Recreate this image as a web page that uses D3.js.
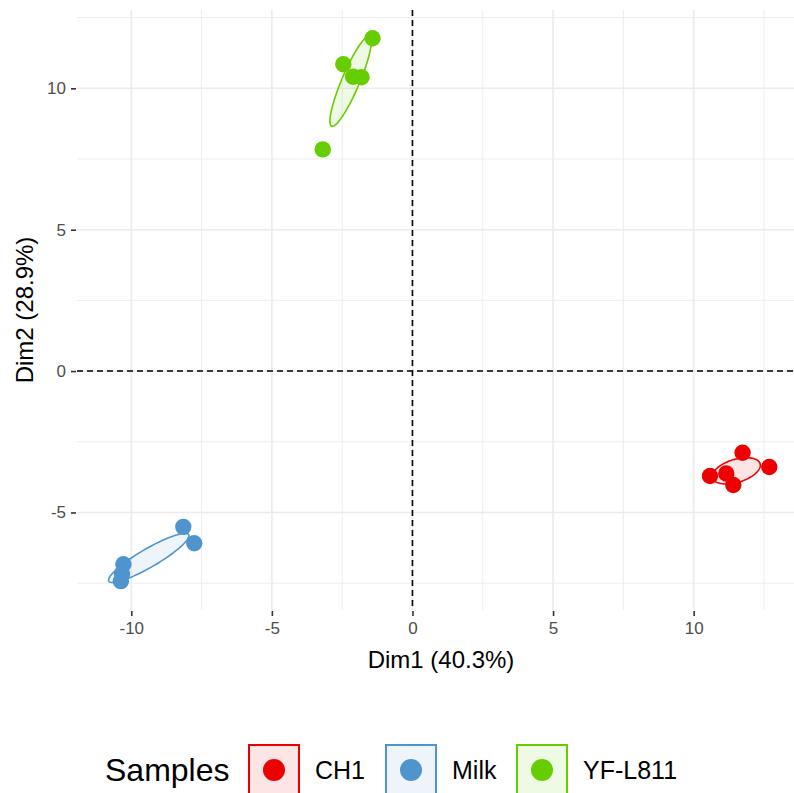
<!DOCTYPE html>
<html>
<head>
<meta charset="utf-8">
<script src="https://cdn.jsdelivr.net/npm/d3@7"></script>
<style>
  body { margin: 0; background: #fff; }
  svg { display: block; font-family: "Liberation Sans", Arial, sans-serif; }
</style>
</head>
<body>
<div id="chart"></div>
<script>
// PCA individuals
var groups = ["CH1", "Milk", "YF-L811"];
var groupColors = ["#EE0000", "#4F94CD", "#66CD00"];

var ch1Dim1 = [10.58, 11.16, 11.41, 11.74, 12.69];
var ch1Dim2 = [-3.71, -3.62, -4.03, -2.89, -3.39];
var milkDim1 = [-8.15, -7.76, -10.28, -10.33, -10.37];
var milkDim2 = [-5.51, -6.09, -6.83, -7.18, -7.43];
var yfDim1 = [-1.42, -2.46, -2.11, -1.81, -3.19];
var yfDim2 = [11.77, 10.85, 10.41, 10.39, 7.84];

var xTicks = [-10, -5, 0, 5, 10];
var yTicks = [-5, 0, 5, 10];
var xMinor = [-12.5, -7.5, -2.5, 2.5, 7.5, 12.5];
var yMinor = [-7.5, -2.5, 2.5, 7.5, 12.5];

var dim1Label = "Dim1 (40.3%)";
var dim2Label = "Dim2 (28.9%)";
var legendTitle = "Samples";

var seriesX = [ch1Dim1, milkDim1, yfDim1];
var seriesY = [ch1Dim2, milkDim2, yfDim2];

var width = 794, height = 793;
var panel = {left: 77, top: 10, right: 805, bottom: 610};

var svg = d3.select("#chart")
            .append("svg")
            .attr("width", width)
            .attr("height", height);

var xScale = d3.scaleLinear()
               .domain([-11.93, 13.96])
               .range([panel.left, panel.right]);

var yScale = d3.scaleLinear()
               .domain([-8.45, 12.77])
               .range([panel.bottom, panel.top]);

svg.append("defs").append("clipPath")
   .attr("id", "panelClip")
   .append("rect")
   .attr("x", panel.left)
   .attr("y", panel.top)
   .attr("width", panel.right - panel.left)
   .attr("height", panel.bottom - panel.top);

var grid = svg.append("g").attr("clip-path", "url(#panelClip)");

// minor grid
grid.selectAll(".vminor").data(xMinor).enter().append("line")
    .attr("x1", function(d) { return xScale(d); })
    .attr("x2", function(d) { return xScale(d); })
    .attr("y1", panel.top).attr("y2", panel.bottom)
    .style("stroke", "#EBEBEB").style("stroke-width", 0.9);
grid.selectAll(".hminor").data(yMinor).enter().append("line")
    .attr("y1", function(d) { return yScale(d); })
    .attr("y2", function(d) { return yScale(d); })
    .attr("x1", panel.left).attr("x2", panel.right)
    .style("stroke", "#EBEBEB").style("stroke-width", 0.9);

// major grid
grid.selectAll(".vmajor").data(xTicks).enter().append("line")
    .attr("x1", function(d) { return xScale(d); })
    .attr("x2", function(d) { return xScale(d); })
    .attr("y1", panel.top).attr("y2", panel.bottom)
    .style("stroke", "#EBEBEB").style("stroke-width", 1.6);
grid.selectAll(".hmajor").data(yTicks).enter().append("line")
    .attr("y1", function(d) { return yScale(d); })
    .attr("y2", function(d) { return yScale(d); })
    .attr("x1", panel.left).attr("x2", panel.right)
    .style("stroke", "#EBEBEB").style("stroke-width", 1.6);

// axes (plain hyphen for negatives, like the original)
var xAxis = svg.append("g")
               .attr("transform", "translate(0," + (panel.bottom + 1) + ")")
               .call(d3.axisBottom(xScale).tickValues(xTicks).tickFormat(String).tickSize(5).tickPadding(6));
var yAxis = svg.append("g")
               .attr("transform", "translate(" + (panel.left - 1) + ",0)")
               .call(d3.axisLeft(yScale).tickValues(yTicks).tickFormat(String).tickSize(5).tickPadding(5));
[xAxis, yAxis].forEach(function(ax) {
  ax.select(".domain").remove();
  ax.selectAll(".tick line").style("stroke", "#333333").style("stroke-width", 1.6);
  ax.selectAll(".tick text")
    .style("fill", "#4D4D4D")
    .style("font-size", "17px")
    .style("font-family", "Liberation Sans, Arial, sans-serif");
});

svg.append("text")
   .attr("x", (panel.left + panel.right) / 2)
   .attr("y", 668)
   .attr("text-anchor", "middle")
   .style("font-size", "24px")
   .style("fill", "#000")
   .text(dim1Label);

svg.append("text")
   .attr("transform", "translate(" + 33 + "," + ((panel.top + panel.bottom) / 2) + ") rotate(-90)")
   .attr("text-anchor", "middle")
   .style("font-size", "24px")
   .style("fill", "#000")
   .text(dim2Label);

// confidence ellipses around group barycenters (coord.ellipse, bary = TRUE)
var chiRadius = Math.sqrt(5.991465);
function confEllipse(xs, ys) {
  var n = xs.length,
      mx = d3.mean(xs), my = d3.mean(ys),
      a = 0, b = 0, c = 0;
  for (var i = 0; i < n; i++) {
    a += (xs[i] - mx) * (xs[i] - mx);
    b += (xs[i] - mx) * (ys[i] - my);
    c += (ys[i] - my) * (ys[i] - my);
  }
  a = a / (n - 1) / n; b = b / (n - 1) / n; c = c / (n - 1) / n;
  var mid = (a + c) / 2,
      dd = Math.sqrt((a - c) * (a - c) / 4 + b * b),
      l1 = mid + dd, l2 = Math.max(mid - dd, 0),
      th = 0.5 * Math.atan2(2 * b, a - c),
      pts = [];
  for (var k = 0; k < 100; k++) {
    var t = 2 * Math.PI * k / 100,
        u = chiRadius * Math.sqrt(l1) * Math.cos(t),
        v = chiRadius * Math.sqrt(l2) * Math.sin(t);
    pts.push([mx + u * Math.cos(th) - v * Math.sin(th),
              my + u * Math.sin(th) + v * Math.cos(th)]);
  }
  return pts;
}

var line = d3.line()
             .x(function(d) { return xScale(d[0]); })
             .y(function(d) { return yScale(d[1]); })
             .curve(d3.curveLinearClosed);

var marks = svg.append("g").attr("clip-path", "url(#panelClip)");

marks.selectAll(".ellipse")
     .data(groups)
     .enter()
     .append("path")
     .attr("class", "ellipse")
     .attr("d", function(d, i) { return line(confEllipse(seriesX[i], seriesY[i])); })
     .style("fill", function(d, i) { return groupColors[i]; })
     .style("fill-opacity", 0.1)
     .style("stroke", function(d, i) { return groupColors[i]; })
     .style("stroke-width", 1.6);

// reference lines at 0
marks.append("line")
     .attr("x1", xScale(0)).attr("x2", xScale(0))
     .attr("y1", panel.top).attr("y2", panel.bottom)
     .style("stroke", "#000").style("stroke-width", 1.6)
     .style("stroke-dasharray", "6,4");
marks.append("line")
     .attr("y1", yScale(0)).attr("y2", yScale(0))
     .attr("x1", panel.left).attr("x2", panel.right)
     .style("stroke", "#000").style("stroke-width", 1.6)
     .style("stroke-dasharray", "6,4");

groups.forEach(function(g, i) {
  marks.selectAll(".pt" + i)
       .data(seriesX[i])
       .enter()
       .append("circle")
       .attr("cx", function(d) { return xScale(d); })
       .attr("cy", function(d, j) { return yScale(seriesY[i][j]); })
       .attr("r", 8.2)
       .style("fill", groupColors[i]);
});

// legend
var legend = svg.append("g");
legend.append("text")
      .attr("x", 105)
      .attr("y", 781)
      .style("font-size", "32px")
      .style("fill", "#000")
      .text(legendTitle);

var keyX = [249, 386, 517];
groups.forEach(function(g, i) {
  var key = legend.append("g").attr("transform", "translate(" + keyX[i] + ",745)");
  key.append("rect")
     .attr("x", 0).attr("y", 0)
     .attr("width", 50).attr("height", 50)
     .style("fill", groupColors[i]).style("fill-opacity", 0.1)
     .style("stroke", groupColors[i]).style("stroke-width", 2);
  key.append("circle")
     .attr("cx", 25).attr("cy", 25).attr("r", 11)
     .style("fill", groupColors[i]);
  key.append("text")
     .attr("x", 66)
     .attr("y", 34)
     .style("font-size", "25px")
     .style("fill", "#000")
     .text(g);
});
</script>
</body>
</html>
